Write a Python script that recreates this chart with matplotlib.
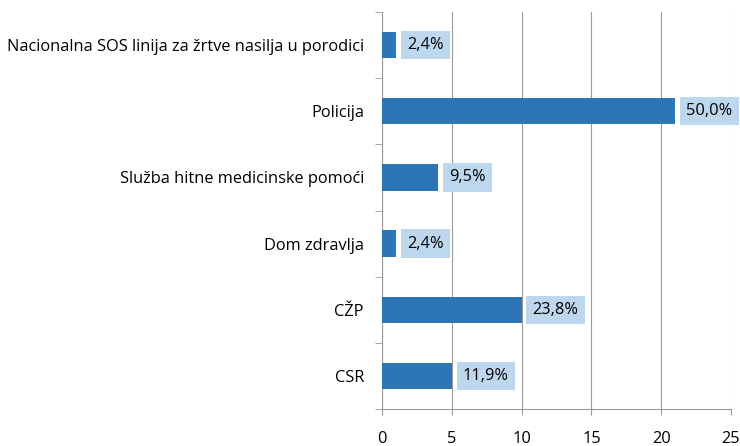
import numpy as np
import matplotlib
matplotlib.use("Agg")
import matplotlib.pyplot as plt

plt.rcParams['font.family'] = ['Open Sans', 'DejaVu Sans']

categories = ['CSR', 'CŽP', 'Dom zdravlja', 'Služba hitne medicinske pomoći',
              'Policija', 'Nacionalna SOS linija za žrtve nasilja u porodici']
counts = [5, 10, 1, 4, 21, 1]
pct_labels = ['11,9%', '23,8%', '2,4%', '9,5%', '50,0%', '2,4%']
xticks = [0, 5, 10, 15, 20, 25]

BAR = '#2E75B6'
BOX = '#BDD7EE'
GREY = '#9A9A9A'

fig = plt.figure(figsize=(7.4, 4.46), dpi=100)
ax = fig.add_axes([382/740, 1-409/446, (731-382)/740, (409-12)/446])

y = np.arange(len(categories))
ax.barh(y, counts, height=0.4, color=BAR, zorder=3)

for yi, v, lab in zip(y, counts, pct_labels):
    ax.annotate(lab, (v, yi), xytext=(8, 0), textcoords='offset points',
                va='center', ha='left', fontsize=11.8, color='black', zorder=4,
                bbox=dict(boxstyle='square,pad=0.38', fc=BOX, ec='none'))

ax.set_xlim(0, 25)
ax.set_ylim(-0.5, len(categories) - 0.5)
ax.set_xticks(xticks)
ax.set_xticklabels([str(t) for t in xticks], fontsize=11.8)
ax.set_yticks(y)
ax.set_yticklabels(categories, fontsize=11.8)
ax.set_yticks(np.arange(-0.5, len(categories)), minor=True)
ax.tick_params(axis='y', which='major', length=0, pad=13)
ax.tick_params(axis='y', which='minor', length=5, color=GREY)
ax.tick_params(axis='x', length=4, color=GREY, pad=12)

ax.grid(axis='x', color=GREY, linewidth=0.8, zorder=0)
for s in ['top', 'right']:
    ax.spines[s].set_visible(False)
for s in ['left', 'bottom']:
    ax.spines[s].set_color(GREY)
    ax.spines[s].set_linewidth(0.8)

fig.savefig('out.png', dpi=100)
